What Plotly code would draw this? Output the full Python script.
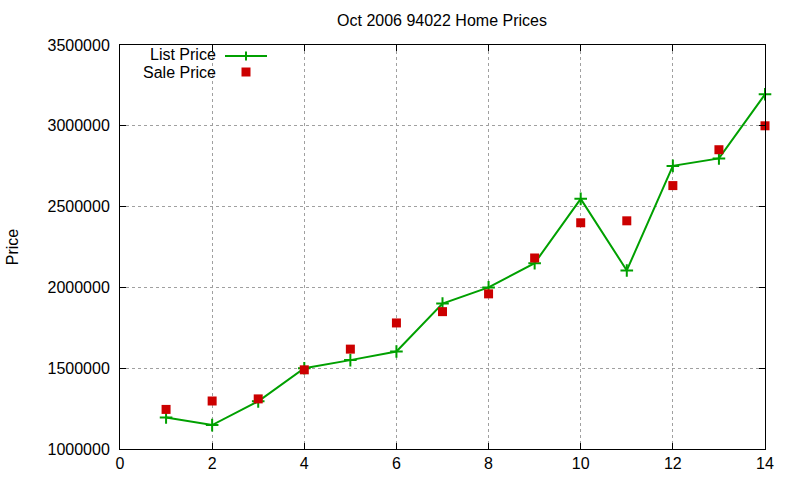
import plotly.graph_objects as go

x_vals = list(range(1, 15))
list_price = [1195000, 1148000, 1295000, 1500000, 1550000, 1603000, 1900000,
              2000000, 2150000, 2548000, 2105000, 2752000, 2798000, 3195000]
sale_price = [1245000, 1297000, 1310000, 1490000, 1618000, 1780000, 1850000,
              1960000, 2182000, 2400000, 2412000, 2630000, 2852000, 3000000]

title_text = "Oct 2006 94022 Home Prices"
y_title = "Price"
legend_names = ["List Price", "Sale Price"]

GREEN = "#00a000"
RED = "#cc0000"
FONT = "Liberation Sans, Arial, sans-serif"

L, R, T, B = 120, 35, 45, 31
W, H = 800, 480
PW, PH = W - L - R, H - T - B

def px(xp):
    return (xp - L) / PW

def py(yp):
    return (H - B - yp) / PH

fig = go.Figure()
fig.add_trace(go.Scatter(
    x=x_vals, y=list_price, mode="lines+markers", name=legend_names[0],
    line=dict(color=GREEN, width=2),
    marker=dict(symbol="cross-thin", size=9, line=dict(color=GREEN, width=2)),
    showlegend=False, cliponaxis=False))
fig.add_trace(go.Scatter(
    x=x_vals, y=sale_price, mode="markers", name=legend_names[1],
    marker=dict(symbol="square", size=9, color=RED),
    showlegend=False, cliponaxis=False))

axis_common = dict(
    showgrid=True, gridcolor="#a0a0a0", griddash="3px,3px", gridwidth=1,
    showline=True, linecolor="black", linewidth=1, mirror="allticks",
    ticks="inside", ticklen=6, tickcolor="black", zeroline=False,
    tickfont=dict(family=FONT, size=16, color="black"),
)
fig.update_xaxes(range=[0, 14], dtick=2, tick0=0, **axis_common)
fig.update_yaxes(range=[1000000, 3500000], dtick=500000, tick0=1000000,
                 tickformat="d", ticklabelstandoff=6,
                 title=dict(text=y_title, standoff=24,
                            font=dict(family=FONT, size=16, color="black")),
                 **axis_common)

# custom gnuplot-style legend (text left of sample)
annotations = []
for name, yp in [(legend_names[0], 54.5), (legend_names[1], 72.5)]:
    annotations.append(dict(text=name, x=px(217), y=py(yp), xref="paper", yref="paper",
                            xanchor="right", yanchor="middle", showarrow=False,
                            borderpad=0,
                            font=dict(family=FONT, size=16, color="black")))
shapes = [
    dict(type="line", xref="paper", yref="paper", x0=px(225), x1=px(267),
         y0=py(56), y1=py(56), line=dict(color=GREEN, width=2)),
    dict(type="line", xref="paper", yref="paper", x0=px(246), x1=px(246),
         y0=py(51.5), y1=py(60.5), line=dict(color=GREEN, width=2)),
    dict(type="rect", xref="paper", yref="paper", x0=px(241.5), x1=px(250.5),
         y0=py(67.5), y1=py(76.5), line=dict(width=0), fillcolor=RED),
]

fig.update_layout(
    width=W, height=H,
    margin=dict(l=L, r=R, t=T, b=B, autoexpand=False),
    paper_bgcolor="white", plot_bgcolor="white",
    title=dict(text=title_text, x=442 / W, xanchor="center", y=1 - 20 / H, yanchor="middle",
               font=dict(family=FONT, size=16, color="black")),
    annotations=annotations, shapes=shapes,
    font=dict(family=FONT, size=16, color="black"),
)

fig.write_html("out.html")
